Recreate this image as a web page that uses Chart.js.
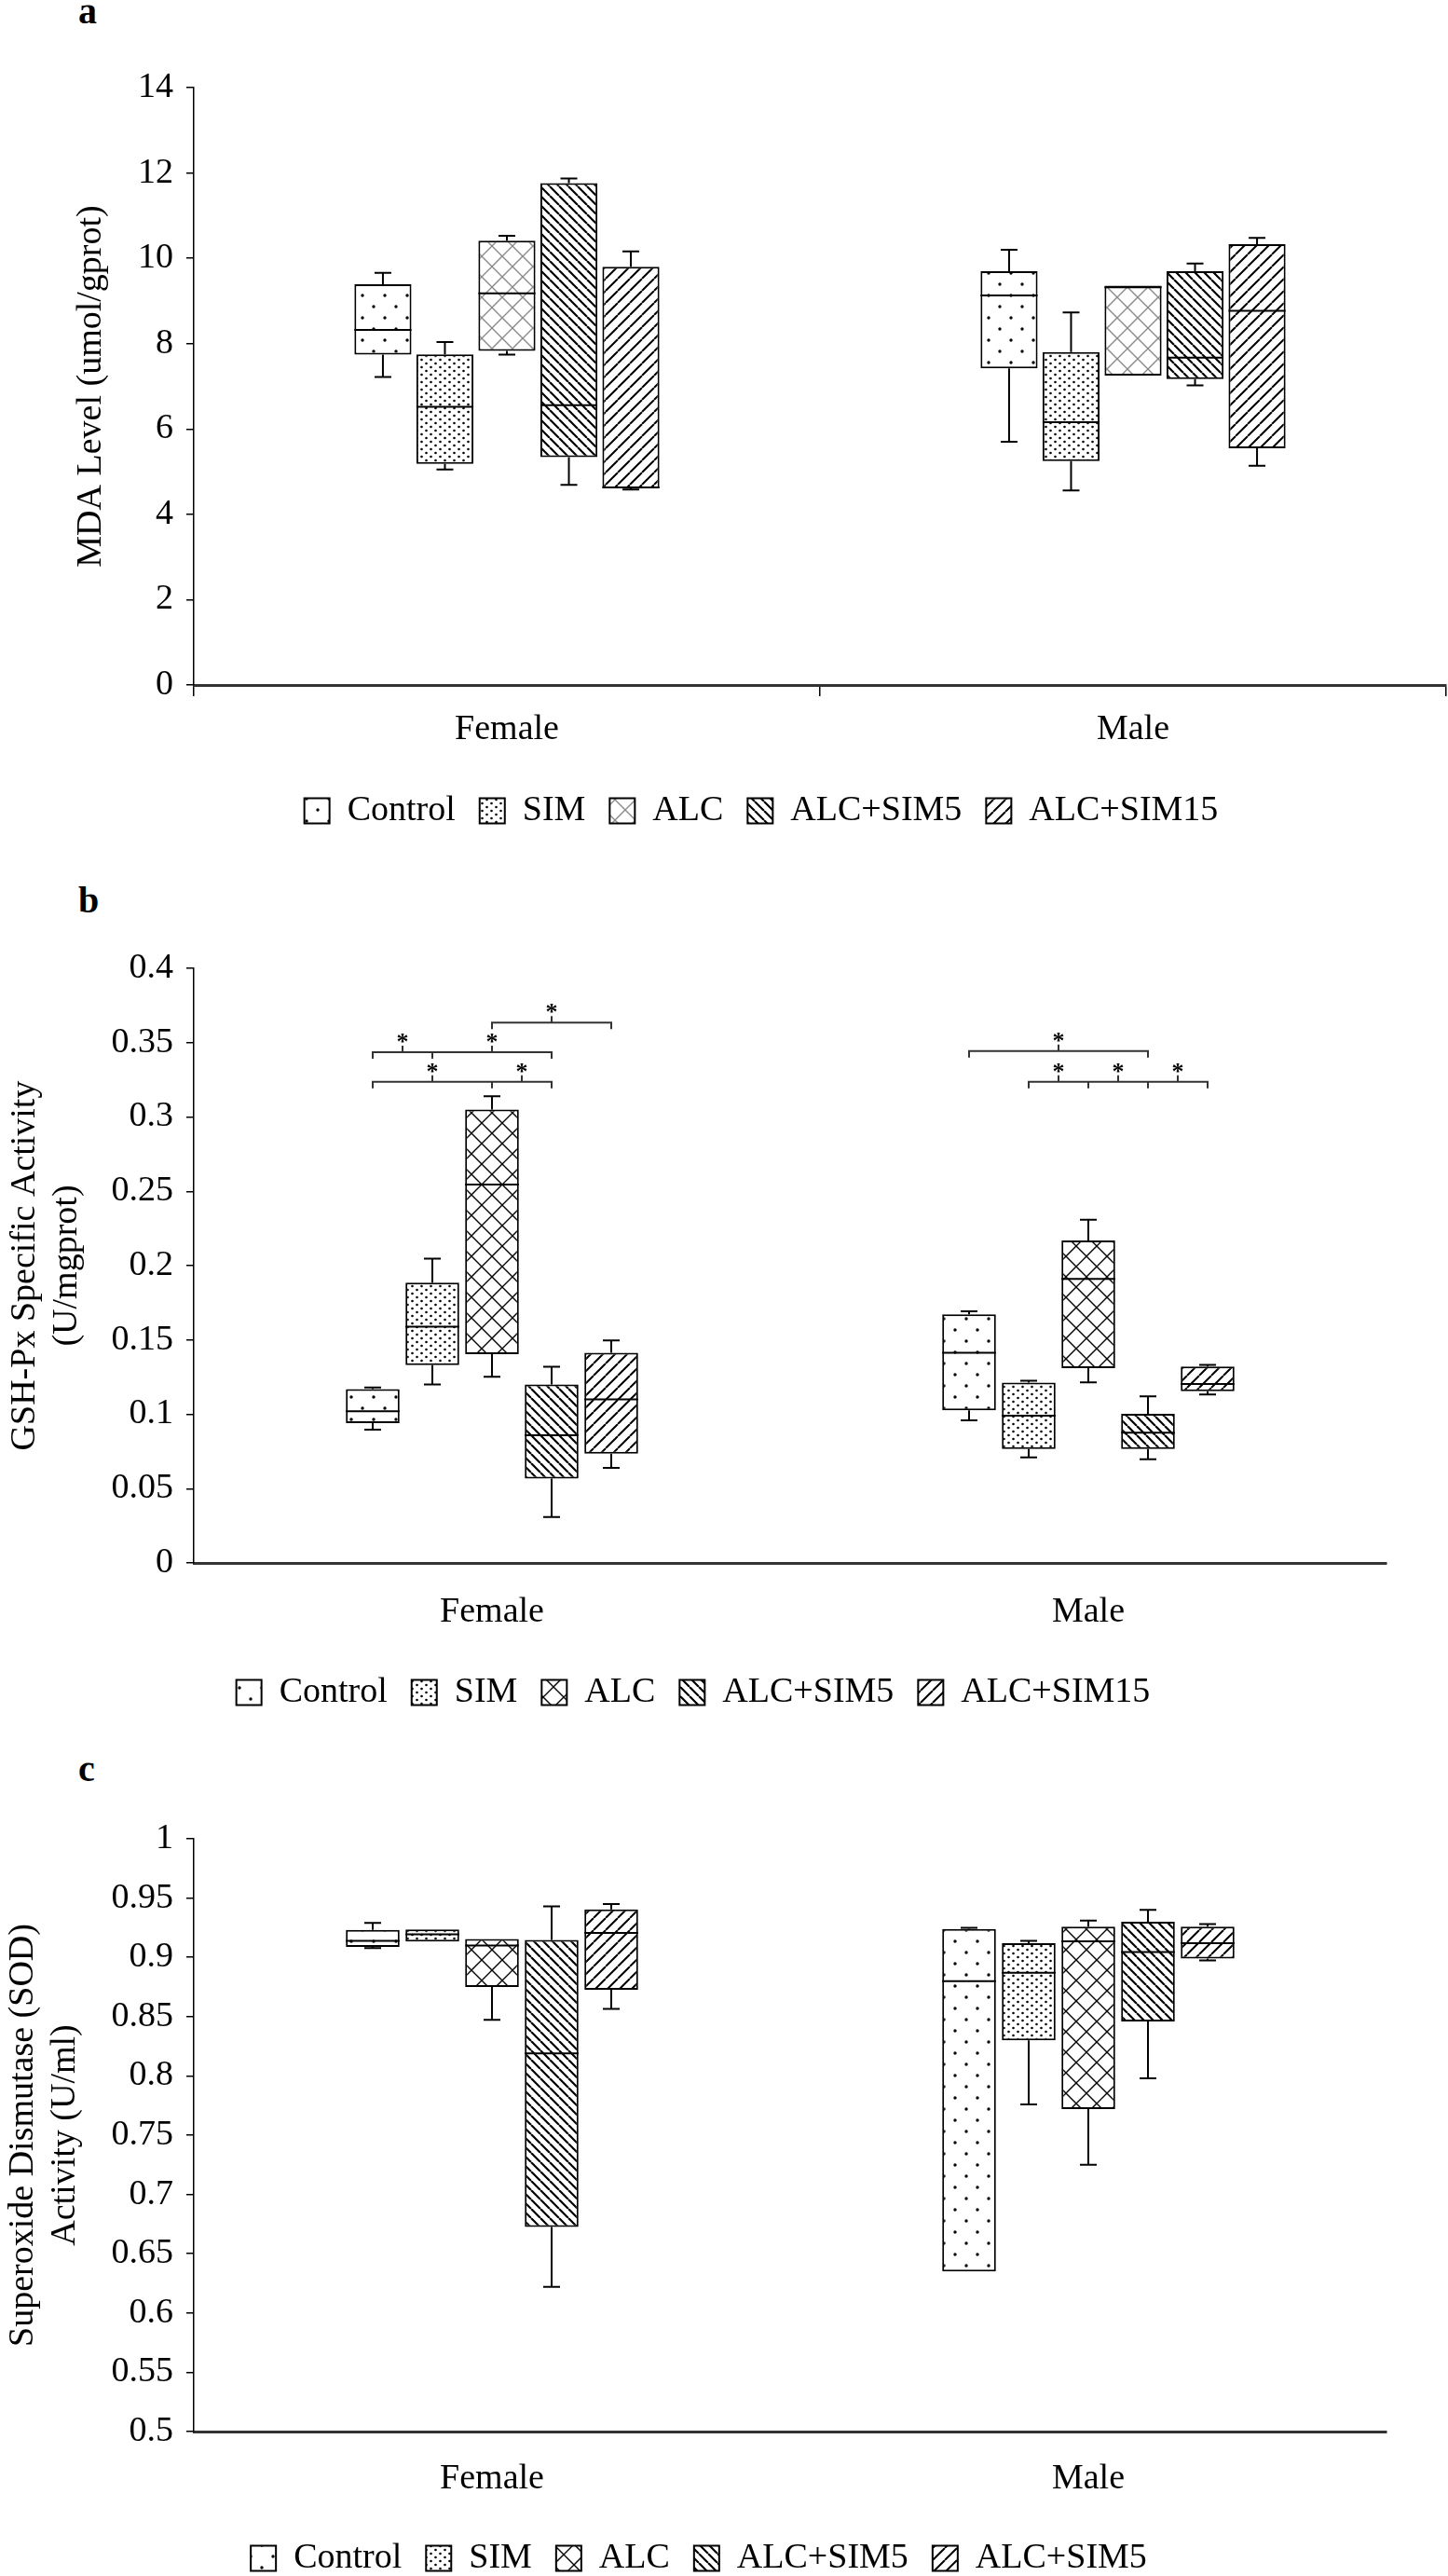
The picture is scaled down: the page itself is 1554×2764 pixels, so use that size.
<!DOCTYPE html>
<html>
<head>
<meta charset="utf-8">
<script src="https://cdn.jsdelivr.net/npm/chart.js@4.4.1/dist/chart.umd.min.js"></script>
<style>
  body { margin: 0; background: #fff; width: 1554px; height: 2764px; overflow: hidden; position: relative; }
  canvas { position: absolute; left: 0; }
  .tag { position: absolute; left: 84px; font: bold 40px "Liberation Serif", serif; line-height: 40px; color: #000; }
</style>
</head>
<body>
<div class="tag" style="top:-8px">a</div>
<div class="tag" style="top:946px">b</div>
<div class="tag" style="top:1878px">c</div>
<canvas id="chartA" width="1554" height="910" style="top:0"></canvas>
<canvas id="chartB" width="1554" height="920" style="top:930px"></canvas>
<canvas id="chartC" width="1554" height="950" style="top:1850px"></canvas>
<script>
const groups = ['Female', 'Male'];
const treatments = ['Control', 'SIM', 'ALC', 'ALC+SIM5', 'ALC+SIM15'];
const legendC = ['Control', 'SIM', 'ALC', 'ALC+SIM5', 'ALC+SIM5'];

// a: MDA level, each row = one treatment, [female, male]
const mdaMin = [[7.22, 5.70], [5.05, 4.56], [7.74, 7.23], [4.69, 7.02], [4.58, 5.14]];
const mdaQ1  = [[7.74, 7.42], [5.18, 5.25], [7.83, 7.25], [5.34, 7.17], [4.61, 5.55]];
const mdaMed = [[8.32, 9.13], [6.52, 6.16], [9.18, 9.32], [6.56, 7.67], [4.63, 8.77]];
const mdaQ3  = [[9.39, 9.70], [7.75, 7.80], [10.41, 9.36], [11.76, 9.70], [9.80, 10.33]];
const mdaMax = [[9.66, 10.20], [8.04, 8.73], [10.53, 9.37], [11.87, 9.88], [10.16, 10.48]];
const mdaTicks = [0, 14, 2];

// b: GSH-Px
const gshMin = [[0.0896, 0.0959], [0.120, 0.071], [0.1252, 0.1215], [0.0309, 0.0697], [0.064, 0.1133]];
const gshQ1  = [[0.094, 0.1026], [0.133, 0.0767], [0.1404, 0.131], [0.0568, 0.0767], [0.0735, 0.1155]];
const gshMed = [[0.102, 0.1414], [0.159, 0.0991], [0.2545, 0.191], [0.0859, 0.0876], [0.110, 0.1203]];
const gshQ3  = [[0.117, 0.1673], [0.1885, 0.1213], [0.305, 0.2169], [0.120, 0.1003], [0.1414, 0.1322]];
const gshMax = [[0.118, 0.1693], [0.2047, 0.1225], [0.314, 0.2308], [0.132, 0.112], [0.1497, 0.1332]];
const gshTicks = [0, 0.4, 0.05];

// significance brackets on b (positions are treatment indices inside a sex group)
const bracketSex   = [0, 0, 0, 1, 1];
const bracketY     = [0.3635, 0.3436, 0.3237, 0.3444, 0.3237];
const bracketFrom  = [2, 0, 0, 0, 1];
const bracketTo    = [4, 3, 3, 3, 4];
const bracketJoins = [[], [1], [2], [], [2, 3]];
const bracketStars = [[3], [0.5, 2], [1, 2.5], [1.5], [1.5, 2.5, 3.5]];

// c: SOD
const sodMin = [[0.9078, 0.635], [0.9134, 0.776], [0.8472, 0.725], [0.622, 0.798], [0.8566, 0.8975]];
const sodQ1  = [[0.9088, 0.635], [0.9134, 0.830], [0.875, 0.772], [0.6726, 0.846], [0.8727, 0.899]];
const sodMed = [[0.9140, 0.880], [0.9194, 0.887], [0.910, 0.9135], [0.8190, 0.9045], [0.9205, 0.912]];
const sodQ3  = [[0.9232, 0.924], [0.9236, 0.912], [0.9155, 0.926], [0.9147, 0.930], [0.9405, 0.926]];
const sodMax = [[0.929, 0.925], [0.9236, 0.914], [0.9158, 0.931], [0.9430, 0.940], [0.9450, 0.928]];
const sodTicks = [0.5, 1, 0.05];

const FONT = '"Liberation Serif", "Times New Roman", serif';
Chart.defaults.font.family = FONT;
Chart.defaults.font.size = 38;
Chart.defaults.color = '#000';

function tile(w, h, draw) {
  const c = document.createElement('canvas');
  c.width = w; c.height = h;
  const g = c.getContext('2d');
  g.fillStyle = '#fff'; g.fillRect(0, 0, w, h);
  g.fillStyle = '#000'; g.strokeStyle = '#000';
  draw(g, w, h);
  return g.createPattern(c, 'repeat');
}
function dot(g, x, y, r) { g.beginPath(); g.arc(x, y, r, 0, Math.PI * 2); g.fill(); }
function diag(g, s, back, lw, col) {
  g.strokeStyle = col; g.lineWidth = lw; g.beginPath();
  for (const k of [-s, 0, s]) {
    if (back) { g.moveTo(k, 0); g.lineTo(k + s, s); }
    else { g.moveTo(k, s); g.lineTo(k + s, 0); }
  }
  g.stroke();
}

const fillControl = tile(24, 24, g => { dot(g, 5, 5, 1.7); dot(g, 17, 17, 1.7); });
const fillSim = tile(10, 8, g => { dot(g, 2.5, 2, 1.3); dot(g, 7.5, 6, 1.3); });
const fillAlc = col => tile(22, 22, g => { diag(g, 22, true, 1.4, col); diag(g, 22, false, 1.4, col); });
const fillSim5 = tile(10, 10, g => diag(g, 10, true, 2.2, '#000'));
const fillSim15 = tile(13, 13, g => diag(g, 13, false, 2, '#000'));

const whiskers = {
  id: 'whiskers',
  afterDatasetsDraw(chart) {
    const ctx = chart.ctx, y = chart.scales.y;
    ctx.save();
    ctx.strokeStyle = '#000';
    ctx.lineWidth = 2;
    chart.data.datasets.forEach((ds, i) => {
      chart.getDatasetMeta(i).data.forEach((bar, j) => {
        const half = bar.width / 2;
        const pMed = y.getPixelForValue(ds.med[j]);
        const pQ1 = y.getPixelForValue(ds.data[j][0]), pQ3 = y.getPixelForValue(ds.data[j][1]);
        const pLo = y.getPixelForValue(ds.low[j]), pHi = y.getPixelForValue(ds.high[j]);
        ctx.beginPath();
        ctx.moveTo(bar.x - half, pMed); ctx.lineTo(bar.x + half, pMed);
        if (pHi < pQ3 - 1) { ctx.moveTo(bar.x, pQ3); ctx.lineTo(bar.x, pHi); ctx.moveTo(bar.x - 9, pHi); ctx.lineTo(bar.x + 9, pHi); }
        if (pLo > pQ1 + 1) { ctx.moveTo(bar.x, pQ1); ctx.lineTo(bar.x, pLo); ctx.moveTo(bar.x - 9, pLo); ctx.lineTo(bar.x + 9, pLo); }
        ctx.stroke();
      });
    });
    ctx.restore();
  }
};

const legendShift = {
  id: 'legendShift',
  afterLayout(chart, args, opts) {
    if (chart.legend && opts.dx) { chart.legend.left += opts.dx; chart.legend.right += opts.dx; }
  }
};

const brackets = {
  id: 'brackets',
  afterDatasetsDraw(chart) {
    const ctx = chart.ctx, y = chart.scales.y;
    const xAt = (sex, pos) => {
      const i = Math.floor(pos), f = pos - i;
      const a = chart.getDatasetMeta(i).data[sex].x;
      if (!f) return a;
      const b = chart.getDatasetMeta(i + 1).data[sex].x;
      return a + (b - a) * f;
    };
    ctx.save();
    ctx.strokeStyle = '#333';
    ctx.lineWidth = 2;
    ctx.fillStyle = '#000';
    ctx.font = 'bold 26px ' + FONT;
    ctx.textAlign = 'center';
    ctx.textBaseline = 'alphabetic';
    bracketY.forEach((v, k) => {
      const py = y.getPixelForValue(v), s = bracketSex[k];
      const x0 = xAt(s, bracketFrom[k]), x1 = xAt(s, bracketTo[k]);
      ctx.beginPath();
      ctx.moveTo(x0, py + 7); ctx.lineTo(x0, py); ctx.lineTo(x1, py); ctx.lineTo(x1, py + 7);
      bracketJoins[k].forEach(p => { const x = xAt(s, p); ctx.moveTo(x, py); ctx.lineTo(x, py + 7); });
      bracketStars[k].forEach(p => { const x = xAt(s, p); ctx.moveTo(x, py); ctx.lineTo(x, py - 7); });
      ctx.stroke();
      bracketStars[k].forEach(p => ctx.fillText('*', xAt(s, p), py - 3));
    });
    ctx.restore();
  }
};

function makeChart(id, o) {
  const datasets = o.names.map((name, i) => ({
    label: name,
    data: groups.map((g, j) => [o.q1[i][j], o.q3[i][j]]),
    low: o.min[i], med: o.med[i], high: o.max[i],
    backgroundColor: o.fills[i],
    borderColor: '#000',
    borderWidth: 2,
    borderSkipped: false,
    categoryPercentage: o.catPct,
    barPercentage: o.barPct
  }));
  return new Chart(document.getElementById(id), {
    type: 'bar',
    data: { labels: groups, datasets },
    options: {
      responsive: false,
      animation: false,
      layout: { padding: { top: o.padTop, right: o.padRight, bottom: o.padBottom, left: 0 } },
      plugins: {
        legend: {
          position: 'bottom',
          labels: { boxWidth: 27, boxHeight: 27, padding: 26, color: '#000', font: { family: FONT, size: 38 } }
        },
        tooltip: { enabled: false },
        legendShift: { dx: o.legendDx }
      },
      scales: {
        x: {
          grid: { display: o.xTicks, drawTicks: o.xTicks, offset: true, drawOnChartArea: false, tickLength: 12, color: '#000', lineWidth: 1.5 },
          border: { color: '#333', width: 3 },
          ticks: { padding: o.xPad, color: '#000', font: { family: FONT, size: 38 } },
          afterFit: s => { s.height = o.xHeight; }
        },
        y: {
          min: o.ticks[0], max: o.ticks[1],
          ticks: { stepSize: o.ticks[2], padding: 14, color: '#000', font: { family: FONT, size: 38 },
                   callback: v => String(+v.toFixed(2)) },
          grid: { drawOnChartArea: false, color: '#000', tickLength: 8, lineWidth: 1.5 },
          border: { color: '#000', width: 1.5 },
          title: { display: true, text: o.title, color: '#000', font: { family: FONT, size: 38 }, padding: { top: o.titlePad, bottom: 0 } },
          afterFit: s => { s.width = 208; }
        }
      }
    },
    plugins: [whiskers, legendShift].concat(o.extra || [])
  });
}

makeChart('chartA', {
  names: treatments,
  min: mdaMin, q1: mdaQ1, med: mdaMed, q3: mdaQ3, max: mdaMax, ticks: mdaTicks,
  fills: [fillControl, fillSim, fillAlc('#8a8a8a'), fillSim5, fillSim15],
  catPct: 0.495, barPct: 0.92,
  padTop: 94, padRight: 2, padBottom: 11, xHeight: 90, xPad: 13, xTicks: true,
  title: 'MDA Level (umol/gprot)', titlePad: 75, legendDx: 41
});

makeChart('chartB', {
  names: treatments,
  min: gshMin, q1: gshQ1, med: gshMed, q3: gshQ3, max: gshMax, ticks: gshTicks,
  fills: [fillControl, fillSim, fillAlc('#000'), fillSim5, fillSim15],
  catPct: 0.5, barPct: 0.9,
  padTop: 109, padRight: 66, padBottom: 5, xHeight: 94, xPad: 30, xTicks: false,
  title: ['GSH-Px Specific Activity', '(U/mgprot)'], titlePad: 4, legendDx: 0,
  extra: [brackets]
});

makeChart('chartC', {
  names: legendC,
  min: sodMin, q1: sodQ1, med: sodMed, q3: sodQ3, max: sodMax, ticks: sodTicks,
  fills: [fillControl, fillSim, fillAlc('#000'), fillSim5, fillSim15],
  catPct: 0.5, barPct: 0.9,
  padTop: 123, padRight: 66, padBottom: 26, xHeight: 91, xPad: 28, xTicks: false,
  title: ['Superoxide Dismutase (SOD)', 'Activity (U/ml)'], titlePad: 2, legendDx: 6
});
</script>
</body>
</html>
